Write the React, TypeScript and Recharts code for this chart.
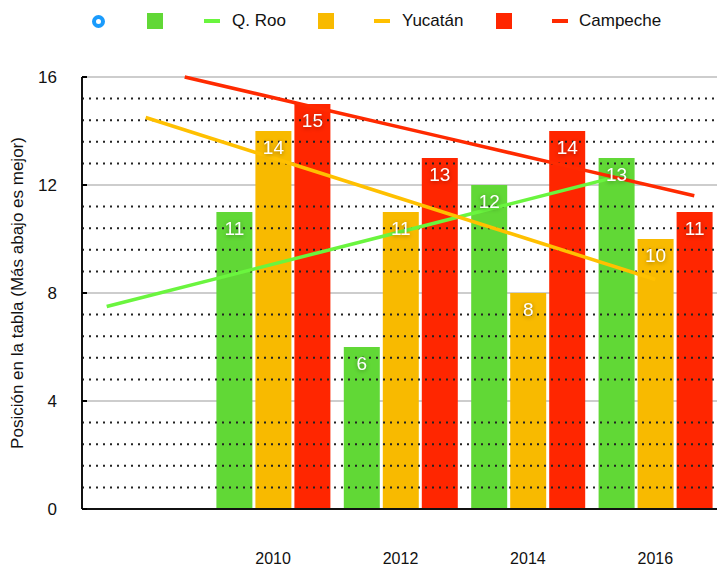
import React from "react";
import {
  ComposedChart,
  Bar,
  Line,
  XAxis,
  YAxis,
  CartesianGrid,
  LabelList,
  ReferenceLine,
} from "recharts";

// ---- data ----
const years = ["", "2010", "2012", "2014", "2016"];
const qrooValues = [null, 11, 6, 12, 13];
const yucatanValues = [null, 14, 11, 8, 10];
const campecheValues = [null, 15, 13, 14, 11];
// trend lines
const qrooTrend = [7.5, 8.7, 9.9, 11.1, 12.3];
const yucatanTrend = [14.5, 13, 11.5, 10, 8.5];
const campecheTrend = [16, 14.9, 13.8, 12.7, 11.6];
const yTicks = [0, 4, 8, 12, 16];
const minorValues = [
  0.8, 1.6, 2.4, 3.2, 4.8, 5.6, 6.4, 7.2, 8.8, 9.6, 10.4, 11.2, 12.8, 13.6,
  14.4, 15.2,
];
const yLabel = "Posición en la tabla (Más abajo es mejor)";

const data = years.map((year, i) => ({
  year,
  qroo: qrooValues[i],
  yucatan: yucatanValues[i],
  campeche: campecheValues[i],
  qrooTrend: qrooTrend[i],
  yucatanTrend: yucatanTrend[i],
  campecheTrend: campecheTrend[i],
}));

const C_GREEN_BAR = "#61d836";
const C_YELLOW_BAR = "#f8ba00";
const C_RED_BAR = "#ff2600";
const C_GREEN_LINE = "#6af53e";
const C_YELLOW_LINE = "#ffc000";
const C_RED_LINE = "#ff2a00";

const FONT = "'Liberation Sans', Arial, Helvetica, sans-serif";

const YTick = (props: any) => {
  const { x, y, payload } = props;
  return (
    <g>
      <text
        x={x}
        y={y}
        dy={6}
        textAnchor="end"
        fontSize={17}
        fontFamily={FONT}
        fill="#111"
      >
        {payload.value}
      </text>
      <line x1={x + 25} x2={x + 30} y1={y} y2={y} stroke="#000" strokeWidth={2} />
    </g>
  );
};

const XTick = (props: any) => {
  const { x, y, payload } = props;
  return (
    <text
      x={x}
      y={y}
      dy={12}
      textAnchor="middle"
      fontSize={16}
      fontFamily={FONT}
      fill="#111"
    >
      {payload.value}
    </text>
  );
};

const YLabel = (props: any) => {
  const vb = props.viewBox || {};
  const cx = (vb.x ?? 0) + 17;
  const cy = (vb.y ?? 77) + (vb.height ?? 432) / 2;
  return (
    <text
      x={cx}
      y={cy}
      transform={`rotate(-90 ${cx} ${cy})`}
      textAnchor="middle"
      dominantBaseline="central"
      fontSize={17}
      fontFamily={FONT}
      fill="#111"
    >
      {yLabel}
    </text>
  );
};

const barLabel = (props: any) => {
  const { x, y, width, value } = props;
  if (value == null) return null;
  return (
    <text
      x={x + width / 2}
      y={y + 16}
      dy={7}
      textAnchor="middle"
      fontSize={19}
      fontFamily={FONT}
      fill="#fff"
      style={{ filter: "drop-shadow(0px 1px 2px rgba(0,0,0,0.35))" }}
    >
      {value}
    </text>
  );
};

const Swatch = ({ color }: { color: string }) => (
  <span
    style={{
      display: "inline-block",
      width: 16,
      height: 16,
      background: color,
    }}
  />
);
const LineKey = ({ color }: { color: string }) => (
  <span
    style={{
      display: "inline-block",
      width: 16,
      height: 4,
      background: color,
    }}
  />
);

export default function App() {
  const legendItem = (left: number, node: React.ReactNode) => (
    <div
      style={{
        position: "absolute",
        left,
        top: 12,
        height: 18,
        display: "flex",
        alignItems: "center",
        fontFamily: FONT,
        fontSize: 17,
        color: "#111",
      }}
    >
      {node}
    </div>
  );
  return (
    <div
      style={{
        position: "absolute",
        left: 0,
        top: 0,
        width: 717,
        height: 567,
        background: "#fff",
        overflow: "hidden",
      }}
    >
      {legendItem(
        92,
        <span
          style={{
            display: "inline-block",
            width: 5,
            height: 5,
            border: "4px solid #1a9bfc",
            borderRadius: "50%",
          }}
        />
      )}
      {legendItem(147, <Swatch color={C_GREEN_BAR} />)}
      {legendItem(
        204,
        <>
          <LineKey color={C_GREEN_LINE} />
          <span style={{ marginLeft: 12 }}>Q. Roo</span>
        </>
      )}
      {legendItem(318, <Swatch color={C_YELLOW_BAR} />)}
      {legendItem(
        374,
        <>
          <LineKey color={C_YELLOW_LINE} />
          <span style={{ marginLeft: 12 }}>Yucatán</span>
        </>
      )}
      {legendItem(496, <Swatch color={C_RED_BAR} />)}
      {legendItem(
        552,
        <>
          <LineKey color={C_RED_LINE} />
          <span style={{ marginLeft: 11 }}>Campeche</span>
        </>
      )}
      <ComposedChart
        width={717}
        height={567}
        data={data}
        margin={{ top: 77, right: -2, bottom: 0, left: 0 }}
        barGap={3}
        barSize={36}
      >
        <CartesianGrid
          vertical={false}
          stroke="#bdbdbd"
          strokeWidth={1.5}
          yAxisId="y"
          xAxisId="main"
        />
        {minorValues.map((v) => (
          <ReferenceLine
            key={v}
            y={v}
            yAxisId="y"
            xAxisId="main"
            stroke="#222"
            strokeWidth={2}
            strokeDasharray="2 5"
          />
        ))}
        <XAxis
          xAxisId="main"
          dataKey="year"
          height={58}
          stroke="#111"
          strokeWidth={2}
          tickLine={false}
          tickSize={0}
          tickMargin={43}
          tick={<XTick />}
          interval={0}
        />
        <XAxis
          xAxisId="q"
          dataKey="year"
          hide
          height={0}
          padding={{ left: -39, right: 39 }}
        />
        <XAxis
          xAxisId="c"
          dataKey="year"
          hide
          height={0}
          padding={{ left: 39, right: -39 }}
        />
        <YAxis
          yAxisId="y"
          width={82}
          domain={[0, 16]}
          ticks={yTicks}
          stroke="#111"
          strokeWidth={2}
          tickLine={false}
          tickSize={0}
          tickMargin={25}
          tick={<YTick />}
          label={<YLabel />}
        />
        <Bar
          dataKey="qroo"
          xAxisId="main"
          yAxisId="y"
          fill={C_GREEN_BAR}
          isAnimationActive={false}
        >
          <LabelList dataKey="qroo" content={barLabel} />
        </Bar>
        <Bar
          dataKey="yucatan"
          xAxisId="main"
          yAxisId="y"
          fill={C_YELLOW_BAR}
          isAnimationActive={false}
        >
          <LabelList dataKey="yucatan" content={barLabel} />
        </Bar>
        <Bar
          dataKey="campeche"
          xAxisId="main"
          yAxisId="y"
          fill={C_RED_BAR}
          isAnimationActive={false}
        >
          <LabelList dataKey="campeche" content={barLabel} />
        </Bar>
        <Line
          dataKey="qrooTrend"
          xAxisId="q"
          yAxisId="y"
          stroke={C_GREEN_LINE}
          strokeWidth={3.5}
          dot={false}
          activeDot={false}
          isAnimationActive={false}
        />
        <Line
          dataKey="yucatanTrend"
          xAxisId="main"
          yAxisId="y"
          stroke={C_YELLOW_LINE}
          strokeWidth={3.5}
          dot={false}
          activeDot={false}
          isAnimationActive={false}
        />
        <Line
          dataKey="campecheTrend"
          xAxisId="c"
          yAxisId="y"
          stroke={C_RED_LINE}
          strokeWidth={3.5}
          dot={false}
          activeDot={false}
          isAnimationActive={false}
        />
      </ComposedChart>
    </div>
  );
}
